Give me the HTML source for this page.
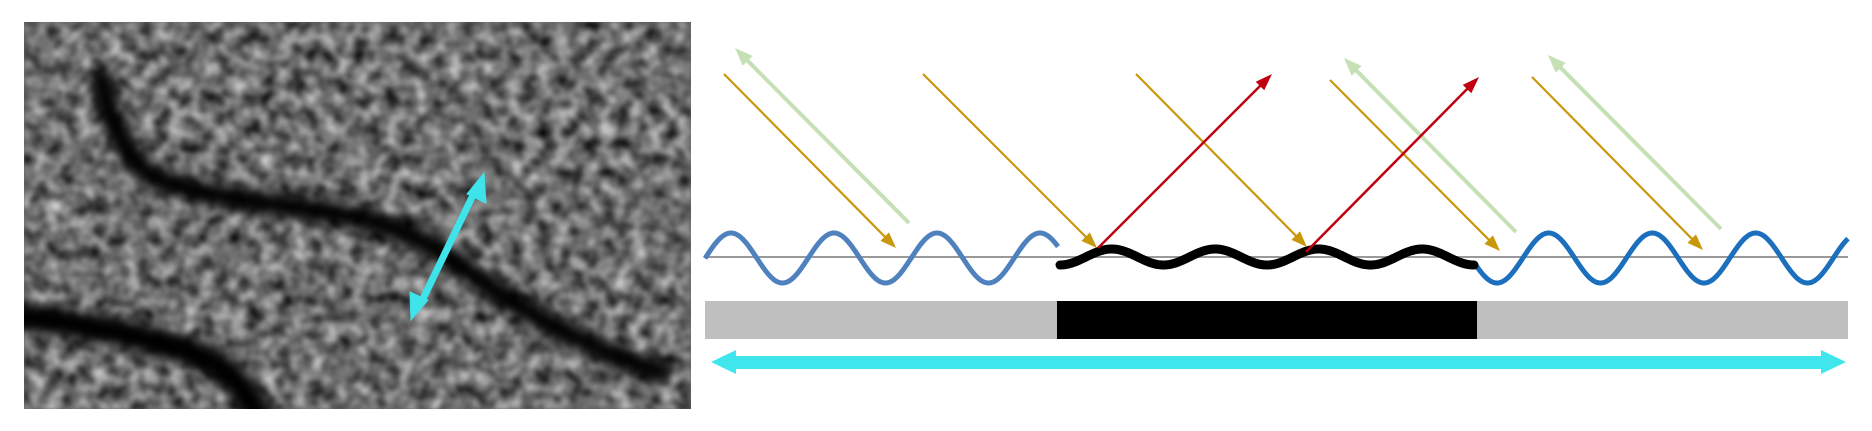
<!DOCTYPE html>
<html><head><meta charset="utf-8"><style>
html,body{margin:0;padding:0;background:#fff;width:1872px;height:431px;overflow:hidden}
svg{display:block}
</style></head><body>
<svg id="s" width="1872" height="431" viewBox="0 0 1872 431" xmlns="http://www.w3.org/2000/svg">
<defs>
<filter id="noise" x="0" y="0" width="100%" height="100%" color-interpolation-filters="sRGB">
<feTurbulence type="fractalNoise" baseFrequency="0.065" numOctaves="2" seed="7" result="t"/>
<feColorMatrix in="t" type="matrix" values="1.05 0 0 0 -0.1  1.05 0 0 0 -0.1  1.05 0 0 0 -0.1  0 0 0 0 1"/>
<feGaussianBlur stdDeviation="1.8"/>
</filter>
<filter id="bl" x="-20%" y="-20%" width="140%" height="140%"><feGaussianBlur stdDeviation="6"/></filter>
<clipPath id="cp"><rect x="24" y="22" width="667" height="387"/></clipPath>
</defs>
<g clip-path="url(#cp)">
<rect x="24" y="22" width="667" height="387" fill="#666"/>
<rect x="24" y="22" width="667" height="387" filter="url(#noise)"/>
<g filter="url(#bl)" fill="none" stroke="#000" stroke-linecap="round">
<path d="M101,80 C112,120 120,150 150,175 C200,200 300,205 360,218 C410,230 440,250 480,280 C530,315 580,345 660,372" stroke-width="22"/>
<path d="M10,316 C70,322 130,332 190,352 C225,365 245,385 262,425" stroke-width="28"/>
</g>
</g>
<g stroke="#3fe3ea" fill="#3fe3ea">
<line x1="420" y1="305" x2="476" y2="189" stroke-width="7"/>
<path d="M484,173 L486,203 L467,194z"/>
<path d="M411,320 L410,292 L428,300z"/>
</g>
<line x1="704" y1="257" x2="1848" y2="257" stroke="#999" stroke-width="2"/>
<path id="w1" fill="none" stroke="#4f82bd" stroke-width="5"/>
<path id="w3" fill="none" stroke="#1c6fbd" stroke-width="5"/>
<path id="w2" fill="none" stroke="#000" stroke-width="9" stroke-linecap="round"/>
<rect x="705" y="301" width="1143" height="38" fill="#bfbfbf"/>
<rect x="1057" y="301" width="420" height="38" fill="#000"/>
<g fill="#3fe7ec">
<rect x="730" y="356" width="1100" height="13"/>
<path d="M711,362 L736,350 L736,374z"/>
<path d="M1846,362 L1821,350 L1821,374z"/>
</g>
<g id="arrows"></g>
</svg>
<script>
function wave(x0,x1,xc,per,amp,cy,sign){var d="";for(var x=x0;x<=x1;x+=1){var y=cy+sign*amp*Math.cos(2*Math.PI*(x-xc)/per);d+=(x==x0?"M":"L")+x+","+y.toFixed(2)+" ";}return d;}
document.getElementById("w1").setAttribute("d",wave(705,1058,731,103,25,258,-1));
document.getElementById("w3").setAttribute("d",wave(1476,1848,1497,103.5,25,258,1));
document.getElementById("w2").setAttribute("d",wave(1060,1474,1060,103.5,8,257,1));
var g=document.getElementById("arrows");var ns="http://www.w3.org/2000/svg";
function arr(x1,y1,x2,y2,c,w,hl,hw){var dx=x2-x1,dy=y2-y1,L=Math.hypot(dx,dy),ux=dx/L,uy=dy/L;
var bx=x2-ux*hl,by=y2-uy*hl;var l=document.createElementNS(ns,"line");l.setAttribute("x1",x1);l.setAttribute("y1",y1);l.setAttribute("x2",bx+ux*2);l.setAttribute("y2",by+uy*2);l.setAttribute("stroke",c);l.setAttribute("stroke-width",w);g.appendChild(l);
var p=document.createElementNS(ns,"path");p.setAttribute("d","M"+x2+","+y2+" L"+(bx-uy*hw)+","+(by+ux*hw)+" L"+(bx+uy*hw)+","+(by-ux*hw)+"z");p.setAttribute("fill",c);g.appendChild(p);}
var O="#c9980a",G="#c6e0b6",R="#c00010";
arr(909,223,735,48,G,4,18,7);
arr(1516,232,1344,58,G,4,18,7);
arr(1721,229,1548,55,G,4,18,7);
arr(724,74,896,248,O,2.2,16,6);
arr(923,74,1097,248,O,2.2,16,6);
arr(1136,74,1307,247,O,2.2,16,6);
arr(1330,80,1500,251,O,2.2,16,6);
arr(1532,77,1703,250,O,2.2,16,6);
arr(1098,248,1272,74,R,2.5,17,6);
arr(1306,252,1479,77,R,2.5,17,6);
</script>
</body></html>
